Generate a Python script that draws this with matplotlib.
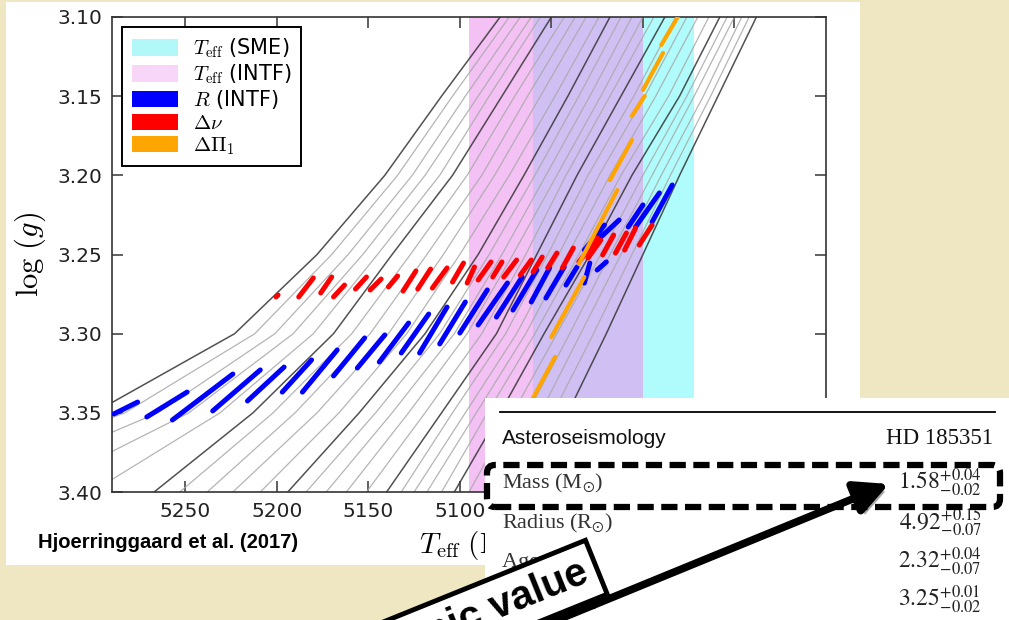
import matplotlib
matplotlib.use("Agg")
import matplotlib.pyplot as plt
from matplotlib.patches import Rectangle, FancyBboxPatch, FancyArrowPatch, Patch
from matplotlib.lines import Line2D
from matplotlib.transforms import IdentityTransform
import matplotlib.patheffects as pe

plt.rcParams['font.family'] = ['DejaVu Sans']
plt.rcParams['mathtext.fontset'] = 'cm'

W, H = 1009, 620
BG = '#efe6c2'

# ---------------- data ----------------
logg_grid = [3.10, 3.15, 3.20, 3.25, 3.30, 3.35, 3.40]

# Teff of each evolutionary track at the logg_grid levels (every 5th track is drawn dark)
tracks_teff = [
    [5078, 5110, 5141, 5178, 5223, 5300, 5433],
    [5073, 5104, 5134, 5170, 5212, 5283, 5400],
    [5067, 5097, 5126, 5161, 5201, 5265, 5367],
    [5061, 5090, 5119, 5153, 5191, 5248, 5334],
    [5056, 5084, 5111, 5145, 5180, 5231, 5301],
    [5050, 5077, 5104, 5137, 5169, 5213, 5267],
    [5043, 5070, 5096, 5127, 5159, 5202, 5253],
    [5037, 5063, 5088, 5118, 5149, 5190, 5238],
    [5031, 5056, 5081, 5109, 5139, 5178, 5224],
    [5024, 5048, 5073, 5100, 5129, 5166, 5209],
    [5018, 5041, 5065, 5090, 5119, 5155, 5194],
    [5012, 5035, 5059, 5084, 5111, 5146, 5184],
    [5006, 5029, 5053, 5077, 5103, 5137, 5173],
    [5000, 5023, 5047, 5071, 5096, 5128, 5162],
    [4994, 5018, 5042, 5064, 5088, 5119, 5151],
    [4988, 5012, 5036, 5058, 5080, 5110, 5140],
    [4982, 5005, 5030, 5052, 5075, 5104, 5132],
    [4976, 4999, 5024, 5046, 5069, 5097, 5125],
    [4970, 4993, 5018, 5041, 5064, 5091, 5118],
    [4964, 4986, 5012, 5035, 5059, 5085, 5110],
    [4958, 4980, 5006, 5029, 5054, 5078, 5103],
    [4954, 4976, 5000, 5023, 5047, 5071, 5095],
    [4950, 4972, 4995, 5018, 5040, 5063, 5086],
    [4946, 4967, 4990, 5012, 5034, 5056, 5078],
    [4942, 4963, 4985, 5006, 5027, 5049, 5070],
    [4938, 4959, 4980, 5000, 5020, 5041, 5062],
]

teff_intf = (5095, 5000)   # pink band
teff_sme = (5060, 4972)    # cyan band

# segments (Teff1, logg1, Teff2, logg2)
radius_segments = [
    (5289, 3.3507, 5276, 3.3432), (5271, 3.3526, 5249, 3.3369),
    (5257, 3.3545, 5224, 3.3255), (5235, 3.3488, 5209, 3.3229),
    (5216, 3.3425, 5196, 3.3211), (5197, 3.3369, 5181, 3.3166),
    (5186, 3.3369, 5167, 3.3103), (5169, 3.3267, 5152, 3.3027),
    (5156, 3.3217, 5141, 3.3008), (5144, 3.3179, 5128, 3.2933),
    (5132, 3.3122, 5117, 3.2876), (5122, 3.3122, 5107, 3.2832),
    (5111, 3.3065, 5097, 3.2800), (5100, 3.2996, 5085, 3.2724),
    (5090, 3.2945, 5074, 3.2680), (5080, 3.2895, 5066, 3.2642),
    (5071, 3.2851, 5058, 3.2598), (5061, 3.2800, 5051, 3.2585),
    (5053, 3.2775, 5043, 3.2579), (5042, 3.2693, 5036, 3.2579),
    (5032, 3.2680, 5029, 3.2554), (5025, 3.2598, 5020, 3.2547),
    (5032, 3.2472, 5021, 3.2314), (5023, 3.2390, 5013, 3.2282),
    (5008, 3.2326, 5000, 3.2187), (5004, 3.2326, 4991, 3.2111),
    (4995, 3.2295, 4984, 3.2061),
]
dnu_segments = [
    (5200.4, 3.2768, 5199.3, 3.2756), (5188, 3.2768, 5180, 3.2648),
    (5176, 3.2743, 5170, 3.2642), (5169, 3.2768, 5163, 3.2693),
    (5157, 3.2718, 5151, 3.2642), (5149, 3.2724, 5143, 3.2655),
    (5139, 3.2705, 5134, 3.2636), (5131, 3.2731, 5124, 3.2604),
    (5123, 3.2718, 5116, 3.2592), (5115, 3.2712, 5107, 3.2585),
    (5104, 3.2674, 5098, 3.2554), (5096, 3.2680, 5092, 3.2579),
    (5090, 3.2661, 5083, 3.2547), (5082, 3.2642, 5077, 3.2547),
    (5076, 3.2642, 5069, 3.2535), (5067, 3.2630, 5061, 3.2535),
    (5060, 3.2611, 5055, 3.2516), (5052, 3.2585, 5047, 3.2491),
    (5044, 3.2585, 5038, 3.2459), (5035, 3.2547, 5025, 3.2396),
    (5030, 3.2522, 5023, 3.2409), (5022, 3.2503, 5016, 3.2377),
    (5015, 3.2491, 5009, 3.2364), (5010, 3.2472, 5004, 3.2333),
    (5002, 3.2440, 4995, 3.2314),
]
dpi1_segments = [
    (5060, 3.3406, 5048, 3.3147), (5050, 3.3021, 5032, 3.2642),
    (5035, 3.2560, 5014, 3.2093), (5018, 3.2030, 5006, 3.1777),
    (5006, 3.1625, 4999, 3.1499), (5000, 3.1461, 4989, 3.1227),
    (4990, 3.1177, 4981, 3.1000),
]

xticks = [5250, 5200, 5150, 5100, 5050, 5000, 4950]
yticks = [3.10, 3.15, 3.20, 3.25, 3.30, 3.35, 3.40]

legend_labels = [r'$T_{\rm eff}$ (SME)', r'$T_{\rm eff}$ (INTF)', r'$R$ (INTF)',
                 r'$\Delta\nu$', r'$\Delta\Pi_1$']

table_header = ('Asteroseismology', 'HD 185351')
table_rows = [r'Mass (M$_{\odot}$)', r'Radius (R$_{\odot}$)', 'Age (Gyr)', r'log $g$ (dex)']
table_values = [r'$1.58^{+0.04}_{-0.02}$', r'$4.92^{+0.15}_{-0.07}$',
                r'$2.32^{+0.04}_{-0.07}$', r'$3.25^{+0.01}_{-0.02}$']

# ---------------- figure ----------------
fig = plt.figure(figsize=(W / 100, H / 100), dpi=100, facecolor=BG)
PIX = IdentityTransform()


def fx(x):
    return x / W


def fy(y):
    return 1 - y / H


# white panel behind chart
fig.add_artist(Rectangle((fx(6), fy(565)), (860 - 6) / W, (565 - 2) / H,
                         transform=fig.transFigure, fc='white', ec='none', zorder=-1))

ax = fig.add_axes([fx(112), fy(492), (826 - 112) / W, (492 - 17) / H])
ax.set_xlim(5290, 4900)
ax.set_ylim(3.40, 3.10)

PINK = '#f3c1f3'
CYAN = '#b0fcfc'
OVER = '#d0bff2'
ax.axvspan(teff_intf[0], teff_sme[0], color=PINK, lw=0, zorder=1)
ax.axvspan(teff_sme[0], teff_intf[1], color=OVER, lw=0, zorder=1)
ax.axvspan(teff_intf[1], teff_sme[1], color=CYAN, lw=0, zorder=1)

for i, T in enumerate(tracks_teff):
    dark = (i % 5 == 0)
    ax.plot(T, logg_grid, color='#333333' if dark else '#a8a8a8',
            lw=1.1 if dark else 0.9, alpha=0.85, zorder=2)

for segs, col, lw in ((radius_segments, '#0000ff', 3.6), (dnu_segments, '#ff0000', 3.6),
                      (dpi1_segments, '#ffa500', 3.0)):
    for (t1, g1, t2, g2) in segs:
        ax.plot([t1, t2], [g1, g2], color=col, lw=lw, solid_capstyle='round', zorder=3)

ax.set_xticks(xticks)
ax.set_xticklabels([str(t) for t in xticks])
ax.set_yticks(yticks)
ax.set_yticklabels(['%.2f' % v for v in yticks])
ax.tick_params(direction='in', length=8, width=1.2, top=True, right=True,
               labelsize=14.5, color='#444444', labelcolor='#222222', pad=7)
for s in ax.spines.values():
    s.set_linewidth(1.2)
    s.set_color('#333333')

handles = [Patch(fc='#b2f8f8', ec='none'), Patch(fc='#f8d6f8', ec='none'),
           Patch(fc='#0000ff', ec='none'), Patch(fc='#ff0000', ec='none'),
           Patch(fc='#ffa500', ec='none')]
leg = ax.legend(handles, legend_labels, loc='upper left', fontsize=15,
                frameon=True, fancybox=False, edgecolor='black', framealpha=1,
                handlelength=2.2, handleheight=0.85, handletextpad=0.75,
                labelspacing=0.1, borderpad=0.45, borderaxespad=0.5)
leg.get_frame().set_linewidth(1.4)
leg.set_zorder(5)

ax.set_ylabel(r'$\log\,(g)$', fontsize=22)
ax.yaxis.set_label_coords(-0.09, 0.5)
fig.text(fx(466), fy(545), r'$T_{\rm eff}\ (\mathrm{K})$', fontsize=21,
         ha='center', va='center', zorder=3)

fig.text(fx(38), fy(543), 'Hjoerringgaard et al. (2017)', fontsize=14.5,
         fontweight='bold', family='Liberation Sans', ha='left', va='center')

# ---------------- table overlay ----------------
fig.add_artist(Rectangle((fx(485), 0), (W - 485) / W, (620 - 398) / H,
                         transform=fig.transFigure, fc='white', ec='none', zorder=5))
fig.add_artist(Line2D([fx(500), fx(995)], [fy(412), fy(412)], transform=fig.transFigure,
                      color='black', lw=1.3, zorder=6))
fig.text(fx(502), fy(438), table_header[0], family='Liberation Sans', fontsize=15,
         ha='left', va='center', color='#111111', zorder=6)
fig.text(fx(993), fy(438), table_header[1], family='Liberation Serif', fontsize=16.5,
         ha='right', va='center', color='#111111', zorder=6)
row_y = [483, 523, 562, 600]
for lab, val, yy in zip(table_rows, table_values, row_y):
    fig.text(fx(502), fy(yy), lab, family='Liberation Serif', math_fontfamily='stix',
             fontsize=16, ha='left', va='center', color='#333333', zorder=6)
    fig.text(fx(982), fy(yy), val, math_fontfamily='stix', fontsize=17,
             ha='right', va='center', color='#222222', zorder=6)

# dashed highlight box
fig.add_artist(FancyBboxPatch((487, H - 507), 1000 - 487, 507 - 465,
                              boxstyle='round,pad=0,rounding_size=8', transform=PIX,
                              fill=False, ec='black', lw=4.5, ls=(0, (2.6, 1.2)), zorder=8))

# rotated label box
fig.text(fx(587), fy(571), 'Asteroseismic value', rotation=22, rotation_mode='anchor',
         ha='right', va='center', fontsize=29, fontweight='bold', family='Liberation Sans',
         bbox=dict(boxstyle='square,pad=0.25', fc='white', ec='black', lw=3.5), zorder=9)

# arrow
arr = FancyArrowPatch(posA=(484, H - 650), posB=(889, H - 484), transform=PIX,
                      arrowstyle='-|>,head_length=20,head_width=10', mutation_scale=1,
                      color='black', lw=5.5, shrinkA=0, shrinkB=0, zorder=10,
                      path_effects=[pe.SimplePatchShadow(offset=(3, -3), alpha=0.35), pe.Normal()])
fig.add_artist(arr)

fig.savefig('out.png', dpi=100, facecolor=BG)
